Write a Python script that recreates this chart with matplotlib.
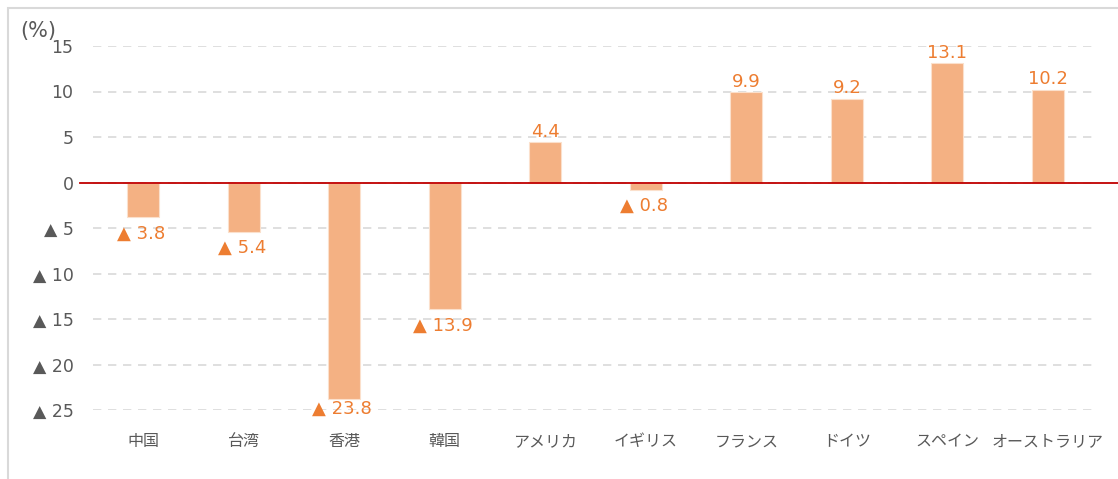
import matplotlib
matplotlib.use("Agg")
import matplotlib.pyplot as plt
from matplotlib.patches import Rectangle

plt.rcParams["font.family"] = ["DejaVu Sans", "Noto Sans CJK JP"]

categories = ["中国", "台湾", "香港", "韓国", "アメリカ", "イギリス",
              "フランス", "ドイツ", "スペイン", "オーストラリア"]
values = [-3.8, -5.4, -23.8, -13.9, 4.4, -0.8, 9.9, 9.2, 13.1, 10.2]
yticks = [15, 10, 5, 0, -5, -10, -15, -20, -25]


def fmt(v):
    # negative numbers are written with a triangle, Japanese style
    return f"▲ {abs(v):g}" if v < 0 else f"{v:g}"


fig = plt.figure(figsize=(11.18, 4.79), dpi=100)
fig.patches.append(Rectangle((8 / 1118, -0.05), 1.2, 1 - 8 / 479 + 0.05,
                             transform=fig.transFigure, fill=False,
                             edgecolor="#D9D9D9", linewidth=1.5))

ax = fig.add_axes([93 / 1118, 1 - 410 / 479, 1005 / 1118, 364 / 479])
x = range(len(categories))
ax.bar(x, values, width=0.32, color="#F4B183", edgecolor="#FBE0CC",
       linewidth=0.8, zorder=3)

ax.set_ylim(-25, 15)
ax.set_xlim(-0.5, len(categories) - 0.5)
ax.set_yticks(yticks)
ax.set_yticklabels([fmt(t) for t in yticks])
ax.set_xticks(list(x))
ax.set_xticklabels(categories, family=["Noto Sans CJK JP"])
ax.tick_params(axis="y", length=0, pad=14, labelsize=12.5, colors="#595959")
ax.tick_params(axis="x", length=0, pad=26, labelsize=11.5, colors="#595959")
# same baseline for every category, whatever the glyphs
for t in ax.get_xticklabels():
    t.set_verticalalignment("baseline")

for s in ax.spines.values():
    s.set_visible(False)
ax.grid(axis="y", color="#D9D9D9", linestyle=(0, (5, 4)), linewidth=1.2, zorder=0)
ax.axhline(0, xmin=-0.013, xmax=1.03, color="#C00000", linewidth=1.3,
           clip_on=False, zorder=4)

for i, v in enumerate(values):
    if v >= 0:
        ax.annotate(fmt(v), (i, v), xytext=(0, 1), textcoords="offset points",
                    ha="center", va="bottom", fontsize=13, color="#ED7D31")
    else:
        y = max(v - 1.8, -24.9)
        ax.text(i - 0.02, y, fmt(v), ha="center", va="center",
                fontsize=13, color="#ED7D31")

fig.text(20 / 1118, 1 - 31 / 479, "(%)", fontsize=15, color="#595959",
         va="center", ha="left")

plt.savefig("out.png", dpi=100)
plt.close(fig)
